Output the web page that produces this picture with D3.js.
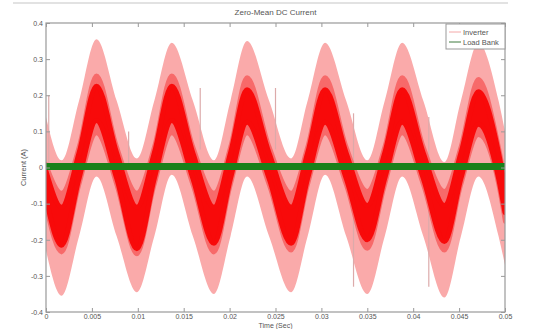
<!DOCTYPE html>
<html>
<head>
<meta charset="utf-8">
<script src="https://cdn.jsdelivr.net/npm/d3@7"></script>
<style>
  html, body { margin: 0; padding: 0; background: #fff; }
  svg { display: block; font-family: "Liberation Sans", Arial, sans-serif; }
</style>
</head>
<body>
<svg id="chart" width="543" height="329"></svg>
<script>
// key times: start, then trough / rising / peak / falling ... , end
const times = [0, 0.0017, 0.0036, 0.0055, 0.0077, 0.0099, 0.0118, 0.0137, 0.0160, 0.0183, 0.0201, 0.0219,
  0.0243, 0.0267, 0.0285, 0.0304, 0.0327, 0.0350, 0.0369, 0.0388, 0.0411, 0.0434, 0.0452, 0.0471, 0.0493, 0.05];

// inverter current, outer (light) envelope
const outerHi = [0.14, 0.02, 0.185, 0.355, 0.185, 0.025, 0.185, 0.345, 0.185, 0.02, 0.185, 0.35,
  0.185, 0.025, 0.185, 0.345, 0.185, 0.02, 0.185, 0.345, 0.185, 0.015, 0.185, 0.345, 0.185, 0.10];
const outerLo = [-0.23, -0.355, -0.19, -0.025, -0.19, -0.345, -0.19, -0.02, -0.19, -0.35, -0.19, -0.025,
  -0.19, -0.345, -0.19, -0.02, -0.19, -0.35, -0.19, -0.025, -0.19, -0.36, -0.19, -0.025, -0.19, -0.27];
// middle band
const midHi = [0.01, -0.07, 0.06, 0.255, 0.06, -0.07, 0.06, 0.255, 0.06, -0.07, 0.06, 0.25,
  0.06, -0.07, 0.06, 0.25, 0.06, -0.065, 0.06, 0.25, 0.06, -0.065, 0.06, 0.245, 0.06, -0.03];
const midLo = [-0.11, -0.235, -0.05, 0.095, -0.05, -0.24, -0.05, 0.095, -0.05, -0.235, -0.05, 0.095,
  -0.05, -0.23, -0.05, 0.095, -0.05, -0.225, -0.05, 0.095, -0.05, -0.23, -0.05, 0.09, -0.05, -0.15];
// dense core
const coreHi = [-0.01, -0.11, 0.04, 0.225, 0.04, -0.11, 0.04, 0.225, 0.04, -0.11, 0.04, 0.215,
  0.04, -0.11, 0.04, 0.215, 0.04, -0.105, 0.04, 0.215, 0.04, -0.105, 0.04, 0.21, 0.04, -0.055];
const coreLo = [-0.085, -0.215, -0.03, 0.13, -0.03, -0.225, -0.03, 0.13, -0.03, -0.21, -0.03, 0.125,
  -0.03, -0.21, -0.03, 0.125, -0.03, -0.2, -0.03, 0.125, -0.03, -0.205, -0.03, 0.12, -0.03, -0.125];

// isolated spikes of the inverter trace
const spikeTimes = [0.0003, 0.009, 0.0168, 0.025, 0.0335, 0.0417];
const spikeLo = [0.0, 0.0, 0.05, 0.05, -0.33, -0.33];
const spikeHi = [0.2, 0.1, 0.22, 0.22, 0.15, 0.14];

// load bank current
const loadTimes = [0, 0.05];
const loadValues = [0.003, 0.003];

const xTicks = [0, 0.005, 0.01, 0.015, 0.02, 0.025, 0.03, 0.035, 0.04, 0.045, 0.05];
const xTickLabels = ["0", "0.005", "0.01", "0.015", "0.02", "0.025", "0.03", "0.035", "0.04", "0.045", "0.05"];
const yTicks = [-0.4, -0.3, -0.2, -0.1, 0, 0.1, 0.2, 0.3, 0.4];
const yTickLabels = ["-0.4", "-0.3", "-0.2", "-0.1", "0", "0.1", "0.2", "0.3", "0.4"];

const seriesNames = ["Inverter", "Load Bank"];

const plotLeft = 46, plotRight = 505, plotTop = 23, plotBottom = 312;
const textColor = "#555";
const axisColor = "#999";

const svg = d3.select("#chart");

// faint rule across the very top
svg.append("line")
  .attr("x1", 13).attr("x2", 508).attr("y1", 3).attr("y2", 3)
  .attr("stroke", "#e2e2e2").attr("stroke-width", 2);

const x = d3.scaleLinear().domain([0, 0.05]).range([plotLeft, plotRight]);
const y = d3.scaleLinear().domain([-0.4, 0.4]).range([plotBottom, plotTop]);

svg.append("clipPath").attr("id", "plotClip")
  .append("rect")
  .attr("x", plotLeft).attr("y", plotTop)
  .attr("width", plotRight - plotLeft).attr("height", plotBottom - plotTop);

const plot = svg.append("g").attr("clip-path", "url(#plotClip)");

function band(hi, lo) {
  return d3.area()
    .x((d, i) => x(times[i]))
    .y0((d, i) => y(lo[i]))
    .y1((d, i) => y(hi[i]))
    .curve(d3.curveMonotoneX)(times);
}

plot.append("path")
  .attr("d", band(outerHi, outerLo))
  .attr("fill", "#faaaaa");

plot.selectAll("line.spike")
  .data(spikeTimes)
  .join("line")
  .attr("class", "spike")
  .attr("x1", d => x(d)).attr("x2", d => x(d))
  .attr("y1", (d, i) => y(spikeLo[i]))
  .attr("y2", (d, i) => y(spikeHi[i]))
  .attr("stroke", "#dcaaaa")
  .attr("stroke-width", 1.2);

plot.append("path")
  .attr("d", band(midHi, midLo))
  .attr("fill", "#f76a6a")
  .attr("stroke", "#f76a6a")
  .attr("stroke-width", 4)
  .attr("stroke-linejoin", "round");

plot.append("path")
  .attr("d", band(coreHi, coreLo))
  .attr("fill", "#f80a0a")
  .attr("stroke", "#f80a0a")
  .attr("stroke-width", 5)
  .attr("stroke-linejoin", "round");

plot.append("path")
  .attr("d", d3.line()
    .x((d, i) => x(loadTimes[i]))
    .y((d, i) => y(loadValues[i]))(loadTimes))
  .attr("fill", "none")
  .attr("stroke", "#1a801a")
  .attr("stroke-width", 7);

// axes with inward ticks on all four sides
const tickLen = 4;
function styleAxis(g) {
  g.select(".domain").remove();
  g.selectAll(".tick line").attr("stroke", axisColor);
  g.selectAll(".tick text")
    .attr("fill", textColor)
    .style("font-size", "7px")
    .style("font-family", "'Liberation Sans', Arial, sans-serif");
}

svg.append("g")
  .attr("transform", `translate(0,${plotBottom})`)
  .call(d3.axisBottom(x).tickValues(xTicks)
    .tickFormat((d, i) => xTickLabels[i])
    .tickSizeInner(-tickLen).tickSizeOuter(0).tickPadding(2))
  .call(styleAxis);

svg.append("g")
  .attr("transform", `translate(0,${plotTop})`)
  .call(d3.axisTop(x).tickValues(xTicks).tickFormat("")
    .tickSizeInner(-tickLen).tickSizeOuter(0))
  .call(styleAxis);

svg.append("g")
  .attr("transform", `translate(${plotLeft},0)`)
  .call(d3.axisLeft(y).tickValues(yTicks)
    .tickFormat((d, i) => yTickLabels[i])
    .tickSizeInner(-tickLen).tickSizeOuter(0).tickPadding(3))
  .call(styleAxis);

svg.append("g")
  .attr("transform", `translate(${plotRight},0)`)
  .call(d3.axisRight(y).tickValues(yTicks).tickFormat("")
    .tickSizeInner(-tickLen).tickSizeOuter(0))
  .call(styleAxis);

svg.append("rect")
  .attr("x", plotLeft).attr("y", plotTop)
  .attr("width", plotRight - plotLeft).attr("height", plotBottom - plotTop)
  .attr("fill", "none")
  .attr("stroke", axisColor)
  .attr("stroke-width", 1.2);

// titles
svg.append("text")
  .attr("x", (plotLeft + plotRight) / 2).attr("y", 15)
  .attr("text-anchor", "middle")
  .attr("fill", textColor)
  .style("font-size", "8px")
  .text("Zero-Mean DC Current");

svg.append("text")
  .attr("x", (plotLeft + plotRight) / 2).attr("y", 328)
  .attr("text-anchor", "middle")
  .attr("fill", textColor)
  .style("font-size", "7px")
  .text("Time (Sec)");

svg.append("text")
  .attr("transform", `translate(26,${(plotTop + plotBottom) / 2}) rotate(-90)`)
  .attr("text-anchor", "middle")
  .attr("fill", textColor)
  .style("font-size", "7.5px")
  .text("Current (A)");

// legend
const legend = svg.append("g").attr("transform", "translate(446,24)");
legend.append("rect")
  .attr("width", 59).attr("height", 25)
  .attr("fill", "#fff")
  .attr("stroke", axisColor)
  .attr("stroke-width", 1);
const legendColors = ["#f4a8a8", "#3f7a3f"];
seriesNames.forEach((name, i) => {
  const ly = 8 + i * 10;
  legend.append("line")
    .attr("x1", 3).attr("x2", 15).attr("y1", ly).attr("y2", ly)
    .attr("stroke", legendColors[i]).attr("stroke-width", 1);
  legend.append("text")
    .attr("x", 17).attr("y", ly + 2.5)
    .attr("fill", textColor)
    .style("font-size", "7.5px")
    .text(name);
});
</script>
</body>
</html>
